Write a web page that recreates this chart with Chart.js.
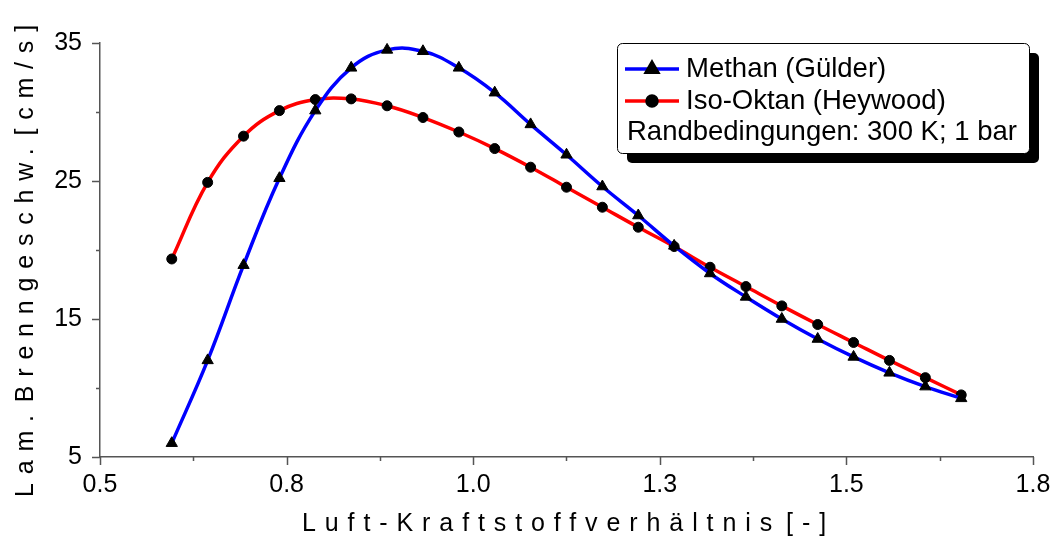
<!DOCTYPE html>
<html>
<head>
<meta charset="utf-8">
<title>Laminare Brenngeschwindigkeit</title>
<script src="https://cdn.jsdelivr.net/npm/chart.js@4.4.1/dist/chart.umd.min.js"></script>
<style>
  html, body { margin: 0; padding: 0; background: #fff; }
  #wrap { width: 1053px; height: 538px; }
</style>
</head>
<body>
<div id="wrap"><canvas id="chart"></canvas></div>
<script>
// Luft-Kraftstoffverhaeltnis (lambda) and laminar burning velocity [cm/s]
const lambdaValues = [0.60, 0.65, 0.70, 0.75, 0.80, 0.85, 0.90, 0.95, 1.00, 1.05, 1.10, 1.15,
                      1.20, 1.25, 1.30, 1.35, 1.40, 1.45, 1.50, 1.55, 1.60, 1.65, 1.70];
const methanValues = [6.0, 12.0, 18.9, 25.2, 30.1, 33.2, 34.5, 34.4, 33.2, 31.4, 29.1, 26.9,
                      24.6, 22.5, 20.3, 18.3, 16.6, 15.0, 13.55, 12.25, 11.1, 10.1, 9.25];
const isoOktanValues = [19.35, 24.9, 28.25, 30.1, 30.9, 30.95, 30.45, 29.6, 28.55, 27.35, 26.0, 24.55,
                        23.1, 21.65, 20.25, 18.75, 17.35, 15.95, 14.6, 13.3, 12.0, 10.75, 9.5];

const xTickValues = [0.5, 0.76, 1.02, 1.28, 1.54, 1.8];
const xTickLabels = ['0.5', '0.8', '1.0', '1.3', '1.5', '1.8'];
const xMinorTicks = [0.63, 0.89, 1.15, 1.41, 1.67];
const yTickValues = [5, 15, 25, 35];
const yTickLabels = ['5', '15', '25', '35'];
const yMinorTicks = [10, 20, 30];

const seriesLabels = ['Methan (Gülder)', 'Iso-Oktan (Heywood)'];
const legendNote = 'Randbedingungen: 300 K; 1 bar';
const xTitle = 'Luft-Kraftstoffverhältnis [-]';
const yTitle = 'Lam. Brenngeschw. [cm/s]';

const FONT = "'Liberation Sans', Arial, sans-serif";
const AXIS_COLOR = '#555555';

// tick marks drawn outward: long for labelled ticks, short for the ones between
const tickMarks = {
  id: 'tickMarks',
  afterDraw(chart) {
    const { ctx, chartArea, scales: { x, y } } = chart;
    ctx.save();
    ctx.strokeStyle = AXIS_COLOR;
    ctx.lineWidth = 1.5;
    ctx.beginPath();
    const xMark = (v, len) => {
      const px = Math.round(x.getPixelForValue(v)) + 0.5;
      ctx.moveTo(px, chartArea.bottom);
      ctx.lineTo(px, chartArea.bottom + len);
    };
    const yMark = (v, len) => {
      const py = Math.round(y.getPixelForValue(v)) + 0.5;
      ctx.moveTo(chartArea.left, py);
      ctx.lineTo(chartArea.left - len, py);
    };
    xTickValues.forEach(v => xMark(v, 8));
    xMinorTicks.forEach(v => xMark(v, 4));
    yTickValues.forEach(v => yMark(v, 8));
    yMinorTicks.forEach(v => yMark(v, 4));
    ctx.stroke();
    ctx.restore();
  }
};

// letter-spaced text, words separated by a small extra gap
function spacedText(ctx, text, x, y, spacing, wordGap) {
  ctx.letterSpacing = spacing + 'px';
  let cx = x;
  text.split(' ').forEach(word => {
    ctx.fillText(word, cx, y);
    cx += ctx.measureText(word).width + wordGap;
  });
}

// spaced-out axis titles
const axisTitles = {
  id: 'axisTitles',
  afterDraw(chart) {
    const { ctx } = chart;
    ctx.save();
    ctx.fillStyle = '#000';
    ctx.font = '25px ' + FONT;
    ctx.textAlign = 'left';
    ctx.textBaseline = 'alphabetic';
    spacedText(ctx, xTitle, 302, 531, 8.9, 5);
    ctx.translate(33, 497);
    ctx.rotate(-Math.PI / 2);
    spacedText(ctx, yTitle, 0, 0, 8.8, 4);
    ctx.restore();
  }
};

// legend box with drop shadow and note line
const legendBox = {
  id: 'legendBox',
  afterDraw(chart, args, opts) {
    const { ctx } = chart;
    const b = opts.box;
    ctx.save();
    ctx.fillStyle = '#000';
    ctx.beginPath();
    ctx.roundRect(b.x + 10, b.y + 10, b.w, b.h, 5);
    ctx.fill();
    ctx.fillStyle = '#fff';
    ctx.strokeStyle = '#000';
    ctx.lineWidth = 1;
    ctx.beginPath();
    ctx.roundRect(b.x + 0.5, b.y + 0.5, b.w, b.h, 5);
    ctx.fill();
    ctx.stroke();

    ctx.font = '27.5px ' + FONT;
    ctx.textBaseline = 'alphabetic';
    chart.data.datasets.forEach((ds, i) => {
      const ly = b.y + 26 + i * 32;
      ctx.strokeStyle = ds.borderColor;
      ctx.lineWidth = 3.5;
      ctx.beginPath();
      ctx.moveTo(b.x + 8, ly);
      ctx.lineTo(b.x + 62, ly);
      ctx.stroke();
      ctx.fillStyle = '#000';
      ctx.strokeStyle = '#000';
      Chart.helpers.drawPoint(ctx, {
        pointStyle: ds.pointStyle, radius: ds.pointRadius, borderWidth: 1, rotation: 0
      }, b.x + 35, ly);
      ctx.fillStyle = '#000';
      ctx.fillText(ds.label, b.x + 69, ly + 8);
    });
    ctx.fillText(legendNote, b.x + 10, b.y + 97);
    ctx.restore();
  }
};

new Chart(document.getElementById('chart'), {
  type: 'line',
  data: {
    labels: lambdaValues,
    datasets: [
      {
        label: seriesLabels[0],
        data: lambdaValues.map((l, i) => ({ x: l, y: methanValues[i] })),
        borderColor: '#0000ff',
        borderWidth: 3.5,
        tension: 0.4,
        pointStyle: 'triangle',
        pointRadius: 6.5,
        pointBackgroundColor: '#000',
        pointBorderColor: '#000',
        pointBorderWidth: 1,
        fill: false
      },
      {
        label: seriesLabels[1],
        data: lambdaValues.map((l, i) => ({ x: l, y: isoOktanValues[i] })),
        borderColor: '#ff0000',
        borderWidth: 3.5,
        tension: 0.4,
        pointStyle: 'circle',
        pointRadius: 5,
        pointBackgroundColor: '#000',
        pointBorderColor: '#000',
        pointBorderWidth: 1,
        fill: false
      }
    ]
  },
  options: {
    responsive: true,
    maintainAspectRatio: false,
    animation: false,
    layout: { padding: { top: 43, right: 20, bottom: 0, left: 0 } },
    plugins: {
      legend: { display: false },
      tooltip: { enabled: false },
      legendBox: { box: { x: 617, y: 43, w: 412, h: 110 } }
    },
    scales: {
      x: {
        type: 'linear',
        min: 0.5,
        max: 1.8,
        afterBuildTicks: scale => { scale.ticks = xTickValues.map(v => ({ value: v })); },
        afterFit: scale => {
          scale.height = 81;
          scale.paddingLeft = 0;
          scale.paddingRight = 0;
        },
        grid: { display: false, drawTicks: false },
        border: { display: true, color: AXIS_COLOR, width: 1.5 },
        ticks: {
          color: '#000',
          font: { family: FONT, size: 25 },
          padding: 13,
          maxRotation: 0,
          autoSkip: false,
          callback: (v, i) => xTickLabels[i]
        }
      },
      y: {
        min: 5,
        max: 35,
        afterBuildTicks: scale => { scale.ticks = yTickValues.map(v => ({ value: v })); },
        afterFit: scale => { scale.width = 100; },
        grid: { display: false, drawTicks: false },
        border: { display: true, color: AXIS_COLOR, width: 1.5 },
        ticks: {
          color: '#000',
          font: { family: FONT, size: 25 },
          padding: 18,
          autoSkip: false,
          callback: (v, i) => yTickLabels[i]
        }
      }
    }
  },
  plugins: [tickMarks, axisTitles, legendBox]
});
</script>
</body>
</html>
